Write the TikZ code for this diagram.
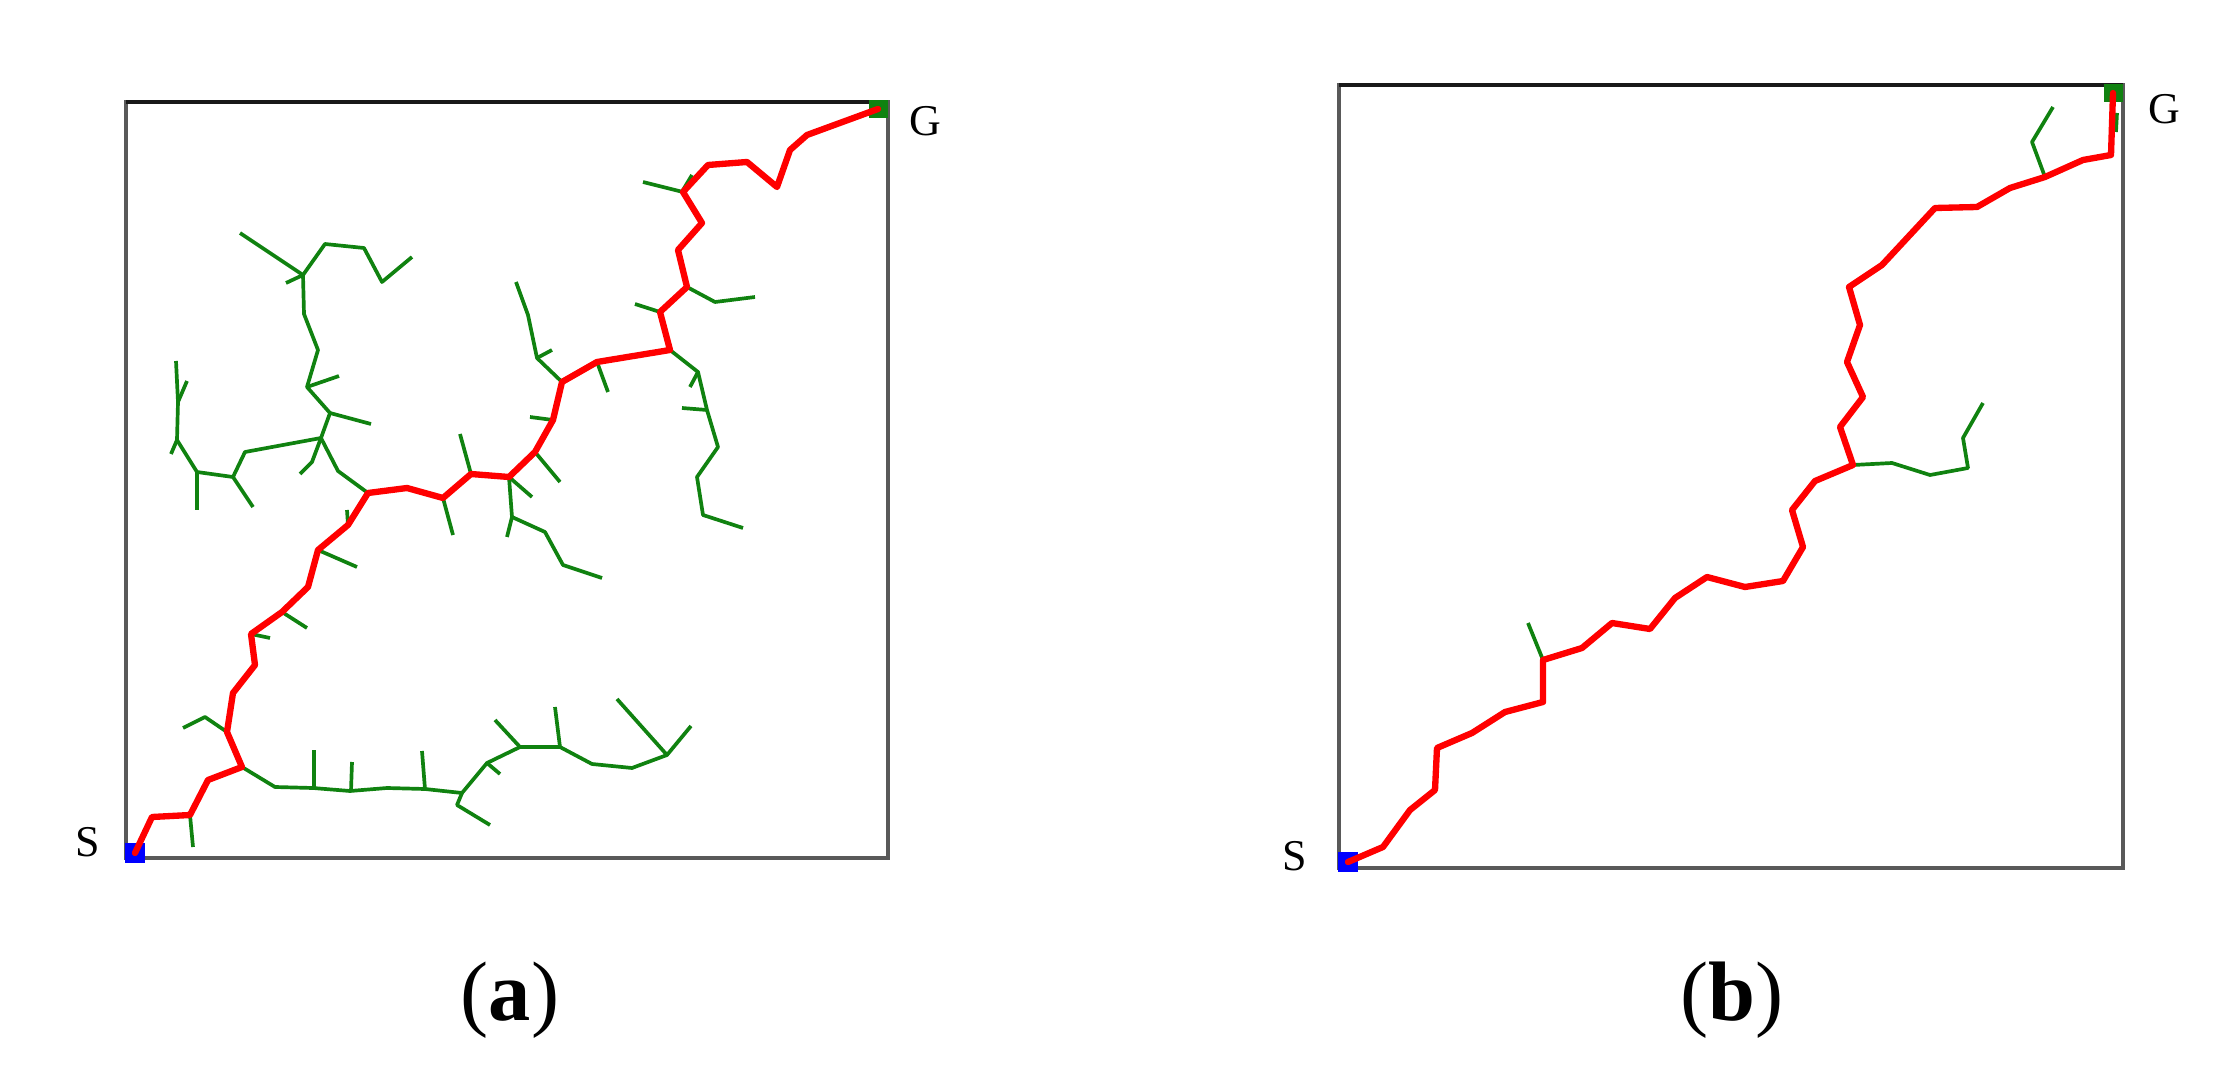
\documentclass[tikz,border=0pt]{standalone}
\usepackage{fontspec}
\setmainfont{Liberation Serif}
\definecolor{treegreen}{RGB}{16,130,16}
\definecolor{pathred}{RGB}{255,0,0}
\begin{document}
\begin{tikzpicture}[x=0.01cm,y=-0.01cm,
  frame/.style={draw=black!65,line width=1.05pt},
  frametop/.style={draw=black!90,line width=1.05pt},
  redpath/.style={draw=pathred,line width=1.8pt,line join=round,line cap=round},
  greenpath/.style={draw=treegreen,line width=1.05pt,line join=round},
  startsq/.style={fill=blue,draw=none,minimum size=5.6pt,inner sep=0pt},
  goalsq/.style={fill=treegreen,draw=none,minimum size=5.4pt,inner sep=0pt},
  lbl/.style={font=\fontsize{12.5}{14}\selectfont,inner sep=0pt},
  captext/.style={font=\fontsize{24}{28}\selectfont,inner sep=0pt}]
\useasboundingbox (0,0) rectangle (2226,1070);

% ---------------- panel (a) ----------------
\draw[frame] (126,102) rectangle (888,858);
\draw[frametop] (126,102) -- (888,102);
\node[startsq] (Sa) at (135,853) {};
\node[goalsq] (Ga) at (878,109) {};

% green tree (a)
\draw[greenpath] (368,493) -- (338,471) -- (321,438) -- (330,413) -- (307,387) -- (318,350) -- (304,314) -- (303,275) -- (240,233);
\draw[greenpath] (303,275) -- (286,283);
\draw[greenpath] (303,275) -- (325,244) -- (364,248) -- (382,282) -- (412,257);
\draw[greenpath] (307,387) -- (339,376);
\draw[greenpath] (330,413) -- (371,424);
\draw[greenpath] (321,438) -- (312,462) -- (300,474);
\draw[greenpath] (321,438) -- (245,452) -- (233,477) -- (197,472) -- (177,440) -- (178,402) -- (176,361);
\draw[greenpath] (178,402) -- (187,381);
\draw[greenpath] (177,440) -- (171,454);
\draw[greenpath] (197,472) -- (197,510);
\draw[greenpath] (233,477) -- (253,507);
\draw[greenpath] (348,525) -- (347,510);
\draw[greenpath] (443,498) -- (453,535);
\draw[greenpath] (471,474) -- (460,434);
\draw[greenpath] (509,477) -- (512,517) -- (507,537);
\draw[greenpath] (512,517) -- (545,532) -- (563,565) -- (602,578);
\draw[greenpath] (509,477) -- (532,497);
\draw[greenpath] (535,452) -- (560,482);
\draw[greenpath] (562,382) -- (537,358) -- (528,315) -- (516,282);
\draw[greenpath] (537,358) -- (552,350);
\draw[greenpath] (553,420) -- (530,417);
\draw[greenpath] (597,362) -- (608,392);
\draw[greenpath] (670,350) -- (698,372) -- (707,410) -- (718,447) -- (697,477) -- (703,515) -- (743,528);
\draw[greenpath] (698,372) -- (690,387);
\draw[greenpath] (707,410) -- (682,408);
\draw[greenpath] (660,312) -- (635,304);
\draw[greenpath] (687,287) -- (715,302) -- (755,297);
\draw[greenpath] (683,192) -- (643,182);
\draw[greenpath] (683,190) -- (692,175);
\draw[greenpath] (190,815) -- (193,847);
\draw[greenpath] (242,767) -- (275,787) -- (313,788) -- (350,791) -- (387,788) -- (425,789) -- (462,793) -- (487,763) -- (520,747) -- (560,747) -- (592,764) -- (632,768) -- (667,755) -- (691,726);
\draw[greenpath] (314,750) -- (314,788);
\draw[greenpath] (352,762) -- (351,791);
\draw[greenpath] (422,751) -- (425,789);
\draw[greenpath] (462,793) -- (457,805) -- (490,825);
\draw[greenpath] (487,763) -- (500,774);
\draw[greenpath] (520,747) -- (495,720);
\draw[greenpath] (560,747) -- (555,707);
\draw[greenpath] (667,755) -- (617,699);
\draw[greenpath] (227,732) -- (205,717) -- (183,728);
\draw[greenpath] (251,634) -- (270,638);
\draw[greenpath] (282,612) -- (307,628);
\draw[greenpath] (318,550) -- (357,567);

% red path (a)
\draw[redpath] (Sa.center) -- (152,817) -- (190,815) -- (208,780) -- (242,767) -- (227,732) -- (233,693) -- (255,665) -- (251,634) -- (282,612) -- (308,587) -- (318,550) -- (348,525) -- (368,493) -- (407,488) -- (443,498) -- (471,474) -- (509,477) -- (535,452) -- (553,420) -- (562,382) -- (597,362) -- (670,350) -- (660,312) -- (687,287) -- (678,250) -- (702,223) -- (683,192) -- (708,165) -- (747,162) -- (777,187) -- (790,150) -- (807,135) -- (Ga.center);

\node[lbl] (GLa) at (925,121) {G};
\node[lbl] (SLa) at (88,842) {S};
\node[captext] (capa) at (510,1000) {(\textbf{a})};

% ---------------- panel (b) ----------------
\draw[frame] (1339,85) rectangle (2123,868);
\draw[frametop] (1339,85) -- (2123,85);
\node[startsq] (Sb) at (1348,862) {};
\node[goalsq] (Gb) at (2113,93) {};

\draw[greenpath] (1543,660) -- (1528,623);
\draw[greenpath] (1853,465) -- (1892,463) -- (1930,475) -- (1968,468) -- (1963,438) -- (1983,403);
\draw[greenpath] (2045,177) -- (2032,142) -- (2053,107);
\draw[greenpath] (2117,113) -- (2116,132);

\draw[redpath] (Sb.center) -- (1383,847) -- (1410,810) -- (1435,790) -- (1437,748) -- (1472,733) -- (1505,712) -- (1543,702) -- (1543,660) -- (1582,648) -- (1612,623) -- (1650,629) -- (1675,598) -- (1707,577) -- (1745,587) -- (1783,581) -- (1803,547) -- (1792,510) -- (1815,481) -- (1853,465) -- (1840,427) -- (1863,397) -- (1847,362) -- (1860,325) -- (1849,287) -- (1882,265) -- (1935,208) -- (1977,207) -- (2010,188) -- (2045,177) -- (2083,160) -- (2111,155) -- (Gb.center);

\node[lbl] (GLb) at (2164,109) {G};
\node[lbl] (SLb) at (1295,856) {S};
\node[captext] (capb) at (1732,1000) {(\textbf{b})};
\end{tikzpicture}
\end{document}
